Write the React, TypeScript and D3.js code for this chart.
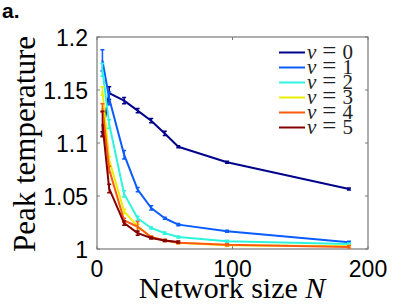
import React, { useRef, useEffect } from "react";
import { select, scaleLinear, line } from "d3";

// network sizes used in the runs
const sizes = [4, 9, 20, 30, 40, 50, 60, 96, 186];
const sizesShort = [4, 9, 20, 30, 40, 50, 60];

const v0 = [1.1085, 1.147, 1.14, 1.1305, 1.121, 1.109, 1.0965, 1.0818, 1.0566];
const v1 = [1.178, 1.142, 1.089, 1.056, 1.0387, 1.029, 1.023, 1.0167, 1.0063];
const v2 = [1.169, 1.118, 1.052, 1.029, 1.0198, 1.015, 1.0113, 1.0072, 1.0047];
const v3 = [1.149, 1.084, 1.0355, 1.0214, 1.011, 1.008, 1.006, 1.0035, 1.0025];
const v4 = [1.133, 1.075, 1.027, 1.021, 1.0113, 1.008, 1.006, 1.004, 1.002];
const v5 = [1.118, 1.057, 1.0245, 1.015, 1.0104, 1.008, 1.0066];

const e0 = [0.002, 0.006, 0.003, 0.002, 0.002, 0.002, 0.001, 0.001, 0.001];
const e1 = [0.01, 0.006, 0.004, 0.002, 0.002, 0.001, 0.001, 0.001, 0.001];
const e2 = [0.006, 0.004, 0.003, 0.002, 0.001, 0.001, 0.001, 0.001, 0.001];
const e3 = [0.004, 0.003, 0.002, 0.002, 0.001, 0.001, 0.001, 0.001, 0.001];
const e4 = [0.004, 0.003, 0.002, 0.005, 0.001, 0.001, 0.001, 0.001, 0.001];
const e5 = [0.012, 0.004, 0.002, 0.002, 0.001, 0.001, 0.001];

const labels = ["0", "1", "2", "3", "4", "5"];
const colors = ["#00008c", "#0a5cff", "#2cf5dc", "#e6f000", "#ff5a10", "#840000"];

const xTicks = [0, 100, 200];
const yTicks = [1, 1.05, 1.1, 1.15, 1.2];
const yTickLabels = ["1", "1.05", "1.1", "1.15", "1.2"];

export default function App() {
  const svgRef = useRef(null);

  useEffect(() => {
    const svg = select(svgRef.current);
    svg.selectAll("*").remove();

    const left = 97, right = 368, top = 37, bottom = 249;
    const x = scaleLinear().domain([0, 200]).range([left, right]);
    const y = scaleLinear().domain([1, 1.2]).range([bottom, top]);

    const series = [
      { n: sizes, vals: v0, err: e0 },
      { n: sizes, vals: v1, err: e1 },
      { n: sizes, vals: v2, err: e2 },
      { n: sizes, vals: v3, err: e3 },
      { n: sizes, vals: v4, err: e4 },
      { n: sizesShort, vals: v5, err: e5 },
    ];

    const g = svg.append("g");

    // box
    g.append("rect")
      .attr("x", left).attr("y", top)
      .attr("width", right - left).attr("height", bottom - top)
      .attr("fill", "white").attr("stroke", "#7a7a7a").attr("stroke-width", 1.2);

    // ticks inside the box
    yTicks.forEach(t => {
      g.append("line").attr("x1", left).attr("x2", left + 3)
        .attr("y1", y(t)).attr("y2", y(t)).attr("stroke", "#7a7a7a");
      g.append("line").attr("x1", right).attr("x2", right - 3)
        .attr("y1", y(t)).attr("y2", y(t)).attr("stroke", "#7a7a7a");
    });
    xTicks.forEach(t => {
      g.append("line").attr("x1", x(t)).attr("x2", x(t))
        .attr("y1", bottom).attr("y2", bottom - 3).attr("stroke", "#7a7a7a");
      g.append("line").attr("x1", x(t)).attr("x2", x(t))
        .attr("y1", top).attr("y2", top + 3).attr("stroke", "#7a7a7a");
    });

    // tick labels
    yTicks.forEach((t, i) => {
      g.append("text").text(yTickLabels[i])
        .attr("x", 88).attr("y", y(t) + 8.5)
        .attr("text-anchor", "end")
        .attr("font-family", "Liberation Sans, Arial, sans-serif")
        .attr("font-size", 23).attr("fill", "black");
    });
    xTicks.forEach(t => {
      g.append("text").text(String(t))
        .attr("x", x(t)).attr("y", 277)
        .attr("text-anchor", "middle")
        .attr("font-family", "Liberation Sans, Arial, sans-serif")
        .attr("font-size", 23).attr("fill", "black");
    });

    // lines + error bars
    const ln = line<any>().x(d => x(d[0])).y(d => y(d[1]));
    series.forEach((s, i) => {
      const pts = s.n.map((n, j) => [n, s.vals[j]]);
      g.append("path").attr("d", ln(pts))
        .attr("fill", "none").attr("stroke", colors[i])
        .attr("stroke-width", 2).attr("stroke-linejoin", "round");
      s.n.forEach((n, j) => {
        const lo = y(s.vals[j] - s.err[j]), hi = y(s.vals[j] + s.err[j]);
        const cx = x(n);
        g.append("path")
          .attr("d", `M${cx},${lo}V${hi}M${cx - 2},${lo}H${cx + 2}M${cx - 2},${hi}H${cx + 2}`)
          .attr("fill", "none").attr("stroke", colors[i]).attr("stroke-width", 1.5);
      });
    });

    // legend
    labels.forEach((l, i) => {
      const ly = 52.5 + i * 15;
      g.append("line").attr("x1", 279).attr("x2", 305)
        .attr("y1", ly).attr("y2", ly)
        .attr("stroke", colors[i]).attr("stroke-width", 2);
      const t = g.append("text")
        .attr("x", 307).attr("y", ly + 6)
        .attr("font-family", "Liberation Serif, serif")
        .attr("font-size", 21).attr("fill", "#222");
      t.append("tspan").attr("font-style", "italic").text("v");
      t.append("tspan").attr("dx", 6).attr("font-size", 25).text("=");
      t.append("tspan").attr("dx", 6).text(l);
    });

    // axis titles
    const xl = g.append("text")
      .attr("x", 232).attr("y", 298)
      .attr("text-anchor", "middle")
      .attr("font-family", "Liberation Serif, serif")
      .attr("font-size", 30).attr("fill", "black");
    xl.append("tspan").text("Network size ");
    xl.append("tspan").attr("font-style", "italic").text("N");

    g.append("text").text("Peak temperature")
      .attr("transform", "translate(35,144) rotate(-90)")
      .attr("text-anchor", "middle")
      .attr("font-family", "Liberation Serif, serif")
      .attr("font-size", 31).attr("fill", "black");

    g.append("text").text("a.")
      .attr("x", 2).attr("y", 18)
      .attr("font-family", "Liberation Sans, Arial, sans-serif")
      .attr("font-weight", "bold")
      .attr("font-size", 21).attr("fill", "black");
  }, []);

  return (
    <svg ref={svgRef} width={407} height={306}
      style={{ position: "absolute", left: 0, top: 0, background: "white" }} />
  );
}
